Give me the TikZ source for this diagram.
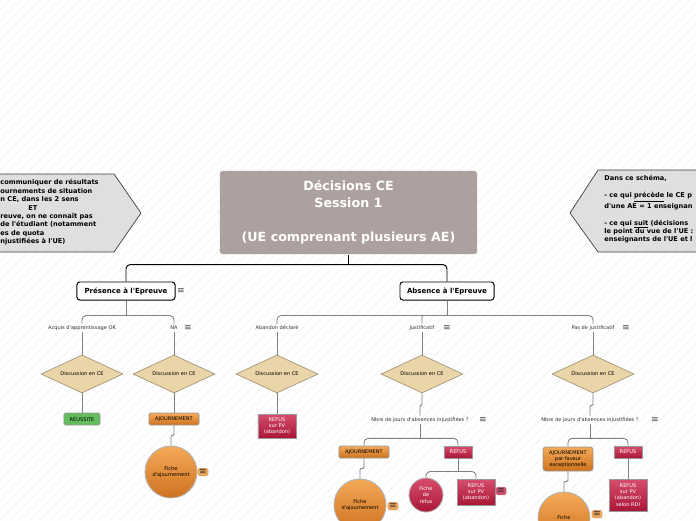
\documentclass[tikz,border=0pt]{standalone}
\usepackage{fontspec}
\setmainfont{DejaVu Sans}[Ligatures=TeXOff]
\usetikzlibrary{shapes.geometric}

\definecolor{titlegray}{RGB}{172,161,159}
\definecolor{calloutgray}{RGB}{224,223,223}
\definecolor{sand}{RGB}{233,213,168}
\definecolor{sandline}{RGB}{165,150,120}
\definecolor{okgreen}{RGB}{98,190,92}
\definecolor{ajlight}{RGB}{244,170,88}
\definecolor{ajdark}{RGB}{206,114,32}
\definecolor{reflight}{RGB}{214,78,108}
\definecolor{refdark}{RGB}{170,22,54}

\begin{document}
\begin{tikzpicture}[
        x=0.025cm, y=-0.025cm,
        font=\fontsize{3.6}{4.4}\selectfont,
        line width=0.6pt
    ]
    \tikzset{
        titlebox/.style = {rectangle, rounded corners=2pt, fill=titlegray, text=white, align=center,
            font=\fontsize{9}{12}\selectfont\bfseries, minimum width=6.43cm, minimum height=2.08cm},
        topbox/.style = {rectangle, rounded corners=2pt, draw=black, fill=white, line width=0.7pt,
            font=\fontsize{5}{6}\selectfont\bfseries, minimum height=0.45cm},
        branch/.style = {inner sep=1pt, text=black!80},
        decision/.style = {diamond, draw=sandline, fill=sand, aspect=2.1, inner sep=0,
            minimum width=2.05cm, minimum height=0.95cm, line width=0.5pt},
        okbox/.style = {rectangle, rounded corners=1pt, draw=black!40, fill=okgreen,
            minimum width=0.9cm, minimum height=0.3cm, inner sep=0},
        ajbox/.style = {rectangle, rounded corners=1pt, draw=black!40, top color=ajlight, bottom color=ajdark,
            align=center, minimum width=1.25cm, minimum height=0.3cm, inner sep=0},
        refbox/.style = {rectangle, draw=black!40, top color=reflight, bottom color=refdark, text=white,
            align=center, minimum width=0.95cm, minimum height=0.3cm, inner sep=0},
        ajfiche/.style = {circle, draw=black!30, top color=ajlight, bottom color=ajdark, align=center,
            minimum size=1.3cm, inner sep=0},
        reffiche/.style = {circle, draw=black!30, top color=reflight, bottom color=refdark, text=white,
            align=center, minimum size=0.85cm, inner sep=0},
        menu/.style = {inner sep=0, text=black!70, font=\fontsize{6.5}{6.5}\selectfont},
        ajmenu/.style = {menu, rectangle, rounded corners=1pt, fill=ajlight, draw=ajdark!70, inner sep=0.8pt, text=black!80},
        refmenu/.style = {menu, rectangle, rounded corners=1pt, fill=reflight, draw=refdark!70, inner sep=0.8pt, text=black!80},
        callout/.style = {draw=black!75, fill=calloutgray, line width=0.5pt},
        callouttext/.style = {align=left, inner sep=0, font=\fontsize{4.7}{6}\selectfont\bfseries},
        toplink/.style = {draw=black, rounded corners=3pt, line width=0.7pt},
        link/.style = {draw=black!50, rounded corners=3pt},
        jog/.style = {draw=black!50, rounded corners=0.8pt},
    }
    \useasboundingbox (0,0) rectangle (696,520);
    \clip (0,0) rectangle (696,520);
    \fill[white] (0,0) rectangle (696,520);
    \foreach \i in {-520,-510,...,700}
        \draw[black!6, line width=0.3pt] (\i,520) -- ++(520,-520);

    % side notes
    \draw[callout] (-10,174) -- (114,174) -- (141,213) -- (114,252) -- (-10,252) -- cycle;
    \node[callouttext, anchor=north west] at (0,179) (L) {communiquer de résultats\\
        ournements de situation\\
        n CE, dans les 2 sens\\
        \hspace*{0.7cm}ET\\
        reuve, on ne connaît pas\\
        de l'étudiant (notamment\\
        es de quota\\
        njustifiées à l'UE)};
    \draw[callout] (706,170) -- (598,170) -- (570,213) -- (598,252) -- (706,252) -- cycle;
    \node[callouttext, anchor=north west] at (604,175) (R) {Dans ce schéma,\\[6pt]
        - ce qui \underline{précède} le CE p\\
        d'une AE = 1 enseignan\\[6pt]
        - ce qui \underline{suit} (décisions \\
        le point du vue de l'UE :\\
        enseignants de l'UE et l};

    % main tree
    \node[titlebox] at (348.5,212.5) (A) {Décisions CE\\Session 1\\[12pt](UE comprenant plusieurs AE)};
    \node[topbox, minimum width=2.45cm] at (126,291) (B) {Présence à l'Epreuve};
    \node[menu] at (181,291) (Bm) {≡};
    \node[topbox, minimum width=2.35cm] at (447,291) (C) {Absence à l'Epreuve};
    \draw[toplink] (A.south) -- ++(0,10) coordinate (a0);
    \draw[toplink] (a0) -| (B.north);
    \draw[toplink] (a0) -| (C.north);

    \node[branch] at (82,328) (B1) {Acquis d'apprentissage OK};
    \node[branch] at (174,328) (B2) {NA};
    \node[menu] at (188,328) (B2m) {≡};
    \node[branch] at (277,328) (C1) {Abandon déclaré};
    \node[branch] at (422,328) (C2) {Justificatif};
    \node[menu] at (447,328) (C2m) {≡};
    \node[branch] at (593,328) (C3) {Pas de justificatif};
    \node[menu] at (626,328) (C3m) {≡};
    \draw[link] (B.south) -- ++(0,15) coordinate (b0);
    \draw[link] (b0) -| (B1.north);
    \draw[link] (b0) -| (B2.north);
    \draw[link] (C.south) -- ++(0,15) coordinate (c0);
    \draw[link] (c0) -| (C1.north);
    \draw[link] (c0) -| (C3.north);
    \draw[jog] (c0) -| (C2.north);

    \node[decision] at (82,374) (D1) {Discussion en CE};
    \node[decision] at (174,374) (D2) {Discussion en CE};
    \node[decision] at (277,374) (D3) {Discussion en CE};
    \node[decision] at (422,374) (D4) {Discussion en CE};
    \node[decision] at (593,374) (D5) {Discussion en CE};
    \foreach \p/\q in {B1/D1, B2/D2, C1/D3, C2/D4, C3/D5}
        \draw[link] (\p.south) -- (\q.north);

    % presence
    \node[okbox] at (82,419) (E1) {RÉUSSITE};
    \node[ajbox] at (174,419) (E2) {AJOURNEMENT};
    \node[ajfiche] at (171,472) (F2) {Fiche\\d'ajournement};
    \node[ajmenu] at (203,472) (F2m) {≡};
    \draw[link] (D1.south) -- (E1.north);
    \draw[link] (D2.south) -- (E2.north);
    \draw[jog] (E2.south) -- ++(0,10) -| (F2.north);

    % abandon
    \node[refbox, minimum height=0.6cm] at (277,426) (G) {REFUS\\sur PV\\(abandon)};
    \draw[link] (D3.south) -- (G.north);

    % justificatif
    \node[branch] at (420,420) (H1) {Nbre de jours d'absences injustifiées ?};
    \node[menu] at (483,420) (H1m) {≡};
    \node[ajbox] at (364,452) (I1) {AJOURNEMENT};
    \node[refbox, minimum width=0.7cm] at (458,452) (I2) {REFUS};
    \node[ajfiche] at (360,505) (J1) {Fiche\\d'ajournement};
    \node[ajmenu] at (393,506) (J1m) {≡};
    \node[reffiche] at (426,495) (J2) {Fiche\\de\\refus};
    \node[refbox, minimum height=0.65cm] at (476,492) (J3) {REFUS\\sur PV\\(abandon)};
    \node[refmenu] at (501,491) (J3m) {≡};
    \draw[jog] (D4.south) -- ++(0,12) -| (H1.north);
    \draw[link] (H1.south) -- ++(0,14) coordinate (h0);
    \draw[link] (h0) -| (I1.north);
    \draw[link] (h0) -| (I2.north);
    \draw[jog] (I1.south) -- ++(0,10) -| (J1.north);
    \draw[link] (I2.south) -- ++(0,13) coordinate (i0);
    \draw[link] (i0) -| (J2.north);
    \draw[link] (i0) -| (J3.north);

    % pas de justificatif
    \node[branch] at (590,420) (K1) {Nbre de jours d'absences injustifiées ?};
    \node[menu] at (655,420) (K1m) {≡};
    \node[ajbox, rounded corners=2pt, minimum height=0.6cm] at (568,459) (L1) {AJOURNEMENT\\par faveur\\exceptionnelle};
    \node[refbox, minimum width=0.7cm] at (628,452) (L2) {REFUS};
    \node[ajfiche] at (564,518) (M1) {Fiche};
    \node[ajmenu] at (597,514) (M1m) {≡};
    \node[refbox, minimum height=0.8cm] at (628,495) (M2) {REFUS\\sur PV\\(abandon)\\selon RDI};
    \draw[jog] (D5.south) -- ++(0,12) -| (K1.north);
    \draw[link] (K1.south) -- ++(0,14) coordinate (k0);
    \draw[link] (k0) -| (L1.north);
    \draw[link] (k0) -| (L2.north);
    \draw[jog] (L1.south) -- ++(0,10) -| (M1.north);
    \draw[link] (L2.south) -- (M2.north);
\end{tikzpicture}
\end{document}
